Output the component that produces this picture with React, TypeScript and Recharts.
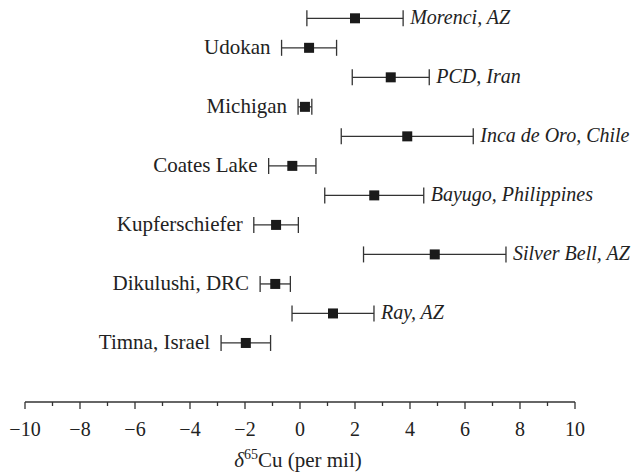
import React from 'react';
import { ScatterChart, Scatter, XAxis, YAxis, ErrorBar } from 'recharts';

const sites = [
  'Morenci, AZ',
  'Udokan',
  'PCD, Iran',
  'Michigan',
  'Inca de Oro, Chile',
  'Coates Lake',
  'Bayugo, Philippines',
  'Kupferschiefer',
  'Silver Bell, AZ',
  'Dikulushi, DRC',
  'Ray, AZ',
  'Timna, Israel',
];
const delta65Cu = [2.0, 0.33, 3.3, 0.18, 3.9, -0.28, 2.7, -0.87, 4.9, -0.9, 1.2, -1.97];
const uncertainty = [1.75, 1.0, 1.4, 0.25, 2.4, 0.86, 1.8, 0.81, 2.59, 0.55, 1.49, 0.9];
const labelSide = ['right', 'left', 'right', 'left', 'right', 'left', 'right', 'left', 'right', 'left', 'right', 'left'];
const xTicks = [-10, -9, -8, -7, -6, -5, -4, -3, -2, -1, 0, 1, 2, 3, 4, 5, 6, 7, 8, 9, 10];
const majorTicks = [-10, -8, -6, -4, -2, 0, 2, 4, 6, 8, 10];

const FONT = '"Liberation Serif", "DejaVu Serif", serif';

const points = sites.map((name, i) => ({ x: delta65Cu[i], y: i, err: uncertainty[i], name }));
const labelPoints = sites.map((name, i) => ({
  x: labelSide[i] === 'right' ? delta65Cu[i] + uncertainty[i] : delta65Cu[i] - uncertainty[i],
  y: i,
  name,
  side: labelSide[i],
}));

const SquareMarker = (props: any) => {
  const { cx, cy } = props;
  if (cx == null || cy == null) return null;
  return <rect x={cx - 5} y={cy - 5} width={10} height={10} fill="#1a1a1a" />;
};

const SiteLabel = (props: any) => {
  const { cx, cy, payload } = props;
  if (cx == null || cy == null) return null;
  const right = payload.side === 'right';
  return (
    <text
      x={right ? cx + 7 : cx - 11}
      y={cy + 6}
      textAnchor={right ? 'start' : 'end'}
      fontFamily={FONT}
      fontSize={right ? 20 : 21}
      fontStyle={right ? 'italic' : 'normal'}
      fill="#222"
    >
      {payload.name}
    </text>
  );
};

const AxisTick = (props: any) => {
  const { x, y, payload } = props;
  const v = payload.value;
  const major = majorTicks.includes(v);
  return (
    <g>
      <line x1={x} x2={x} y1={y} y2={y + (major ? 7 : 4)} stroke="#333" strokeWidth={1.3} />
      {major && (
        <text x={x} y={y + 34} textAnchor="middle" fontFamily={FONT} fontSize={20} fill="#222">
          {v < 0 ? `\u2212${Math.abs(v)}` : `${v}`}
        </text>
      )}
    </g>
  );
};

const AxisTitle = (props: any) => {
  const vb = props.viewBox || {};
  const cx = vb.x + vb.width / 2;
  return (
    <text x={cx - 2} y={467} textAnchor="middle" fontFamily={FONT} fontSize={21} fill="#222">
      <tspan fontStyle="italic">δ</tspan>
      <tspan fontSize={14} dy={-8}>65</tspan>
      <tspan dy={8}>Cu (per mil)</tspan>
    </text>
  );
};

export default function App() {
  return (
    <div style={{ position: 'absolute', left: 0, top: 0, background: '#fff' }}>
      <ScatterChart width={631} height={474} margin={{ top: 0, right: 56, bottom: 12, left: 25 }}>
        <XAxis
          type="number"
          dataKey="x"
          domain={[-10, 10]}
          ticks={xTicks}
          interval={0}
          tickSize={0}
          tickMargin={0}
          tickLine={false}
          tick={<AxisTick />}
          axisLine={{ stroke: '#333', strokeWidth: 1.3 }}
          height={60}
          label={{ content: <AxisTitle /> } as any}
        />
        <YAxis type="number" dataKey="y" domain={[-0.62, 13.0]} reversed hide />
        <Scatter data={points} shape={<SquareMarker />} isAnimationActive={false}>
          <ErrorBar dataKey="err" direction="x" width={8} stroke="#333" strokeWidth={1.3} isAnimationActive={false} />
        </Scatter>
        <Scatter data={labelPoints} shape={<SiteLabel />} isAnimationActive={false} />
      </ScatterChart>
    </div>
  );
}
